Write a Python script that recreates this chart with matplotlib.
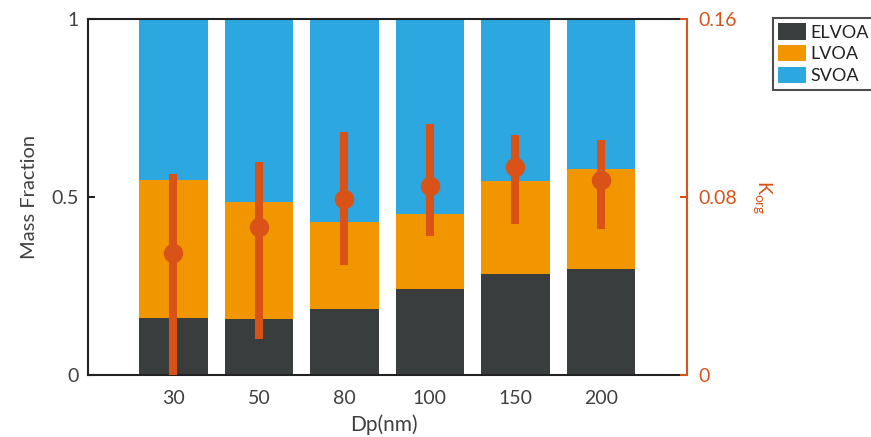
import matplotlib
matplotlib.use("Agg")
import matplotlib.pyplot as plt
import numpy as np

plt.rcParams["font.family"] = ["Lato", "DejaVu Sans"]
plt.rcParams["mathtext.fontset"] = "custom"
plt.rcParams["mathtext.rm"] = "Lato"

# data
sizes = ["30", "50", "80", "100", "150", "200"]
elvoa = [0.159, 0.156, 0.186, 0.242, 0.285, 0.299]
lvoa_top = [0.548, 0.487, 0.429, 0.451, 0.545, 0.578]
korg = [0.0550, 0.0667, 0.0789, 0.0851, 0.0936, 0.0876]
korg_low = [0.0, 0.0161, 0.0493, 0.0625, 0.0679, 0.0656]
korg_high = [0.0903, 0.0959, 0.1093, 0.1127, 0.1079, 0.1056]

c_elvoa = "#3a3d3e"
c_lvoa = "#f29600"
c_svoa = "#2ca7e0"
c_err = "#d95319"
c_text = "#404040"

W, H = 871, 437
fig = plt.figure(figsize=(W / 100, H / 100), dpi=100)
left, right, top, bottom = 88, 680, 19, 375
ax = fig.add_axes([left / W, 1 - bottom / H, (right - left) / W, (bottom - top) / H])

x = np.arange(1, len(sizes) + 1)
elvoa = np.array(elvoa)
lvoa = np.array(lvoa_top) - elvoa
svoa = 1.0 - np.array(lvoa_top)

bw = 0.8
ax.bar(x, elvoa, bw, color=c_elvoa, label="ELVOA", zorder=2)
ax.bar(x, lvoa, bw, bottom=elvoa, color=c_lvoa, label="LVOA", zorder=2)
ax.bar(x, svoa, bw, bottom=elvoa + lvoa, color=c_svoa, label="SVOA", zorder=2)

ax.set_xlim(0, 6.925)
ax.set_ylim(0, 1)
ax.set_yticks([0, 0.5, 1])
ax.set_yticklabels(["0", "0.5", "1"])
ax.set_xticks(x)
ax.set_xticklabels(sizes)
ax.tick_params(axis="x", length=0, pad=11, labelsize=14, labelcolor=c_text)
ax.tick_params(axis="y", direction="in", length=5, width=1.5, pad=7,
               labelsize=14, labelcolor=c_text, color="#222222")
for s in ["left", "top", "bottom"]:
    ax.spines[s].set_color("#222222")
    ax.spines[s].set_linewidth(1.5)
ax.spines["right"].set_visible(False)
ax.set_ylabel("Mass Fraction", fontsize=14.5, color=c_text, labelpad=9)
ax.set_xlabel("Dp(nm)", fontsize=15, color=c_text, labelpad=5)

ax2 = ax.twinx()
ax2.set_ylim(0, 0.16)
ax2.set_yticks([0, 0.08, 0.16])
ax2.set_yticklabels(["0", "0.08", "0.16"])
k = np.array(korg)
yerr = [k - np.array(korg_low), np.array(korg_high) - k]
ax2.errorbar(x, k, yerr=yerr, fmt="o", color=c_err, ms=13, elinewidth=5.8,
             capsize=0, zorder=5, clip_on=False)
for s in ["left", "top", "bottom"]:
    ax2.spines[s].set_visible(False)
ax2.spines["right"].set_position(("outward", 5))
ax2.spines["right"].set_color(c_err)
ax2.spines["right"].set_linewidth(1.5)
ax2.tick_params(axis="y", direction="in", length=5, width=1.5, pad=8,
                labelsize=14, colors=c_err)
ax2.set_ylabel(r"K$_{\mathrm{org}}$", fontsize=14, color=c_err, rotation=-90,
               labelpad=26)

handles, labels = ax.get_legend_handles_labels()
leg = fig.legend(handles, labels, loc="upper left",
                 bbox_to_anchor=(773 / W, 1 - 18 / H), fontsize=13,
                 frameon=True, fancybox=False, handlelength=1.5,
                 handleheight=1.0, handletextpad=0.25, borderpad=0.3,
                 labelspacing=0.25, borderaxespad=0)
leg.get_frame().set_edgecolor("#222222")
leg.get_frame().set_linewidth(1.5)
for t in leg.get_texts():
    t.set_color("#222222")

fig.savefig("out.png", dpi=100)
